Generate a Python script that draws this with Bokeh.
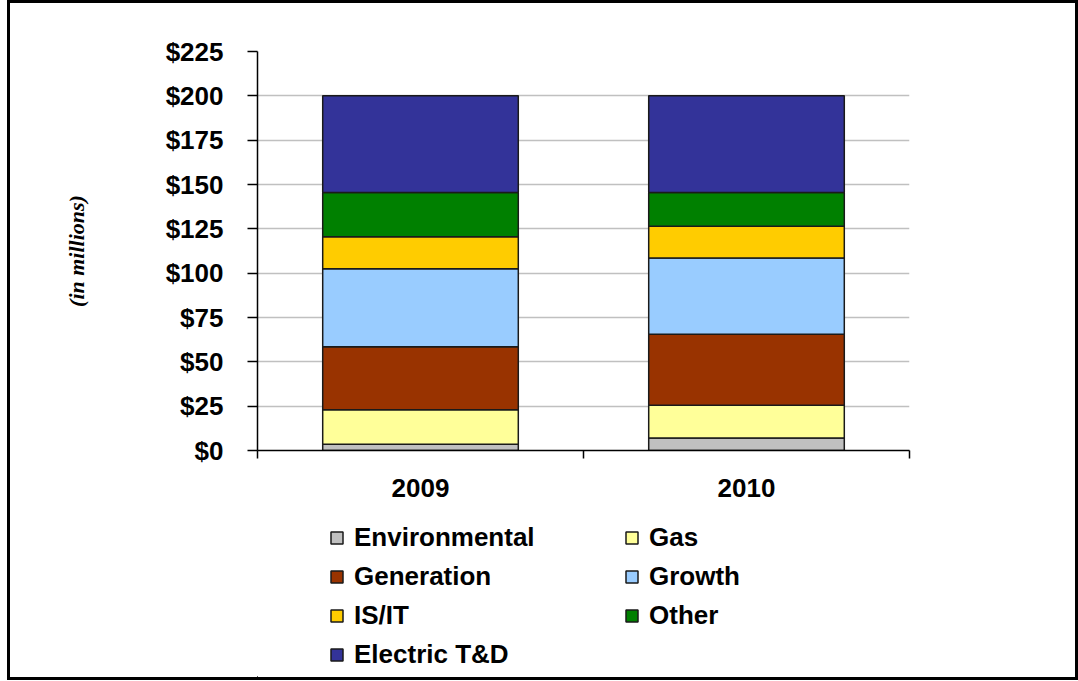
from bokeh.plotting import figure
from bokeh.layouts import column
from bokeh.models import (Range1d, FixedTicker, NumeralTickFormatter, Legend,
                          LegendItem, ColumnDataSource)
from bokeh.embed import file_html
from bokeh.resources import INLINE

years = ["2009", "2010"]
categories = ["Environmental", "Gas", "Generation", "Growth", "IS/IT", "Other", "Electric T&D"]
environmental = [3.5, 7.0]
gas = [19.5, 18.5]
generation = [35.5, 40.0]
growth = [44.0, 43.0]
is_it = [18.0, 18.0]
other = [25.0, 19.0]
electric_td = [54.5, 54.5]
colors = ["#C0C0C0", "#FFFF99", "#993300", "#99CCFF", "#FFCC00", "#008000", "#333399"]
y_ticks = [0, 25, 50, 75, 100, 125, 150, 175, 200, 225]

series = [environmental, gas, generation, growth, is_it, other, electric_td]
xs = [i + 0.5 for i in range(len(years))]
data = {"x": xs}
for name, vals in zip(categories, series):
    data[name] = vals
src = ColumnDataSource(data)

FONT = "Liberation Sans"
W = 1065

p = figure(width=W, frame_width=652, frame_height=399, output_backend="svg",
           toolbar_location=None,
           x_range=Range1d(0, len(years)), y_range=Range1d(0, 225),
           min_border_left=247, min_border_right=166, min_border_top=48,
           min_border_bottom=65)
p.outline_line_color = None
p.background_fill_color = "white"
p.border_fill_color = "white"

renderers = p.vbar_stack(categories, x="x", width=0.6, source=src,
                         fill_color=colors, line_color="#1a1a1a", line_width=1.5)

# axes
p.xaxis.ticker = FixedTicker(ticks=xs, minor_ticks=list(range(len(years) + 1)))
p.xaxis.major_label_overrides = {x: y for x, y in zip(xs, years)}
p.xaxis.major_tick_in = 0
p.xaxis.major_tick_out = 0
p.xaxis.minor_tick_in = 0
p.xaxis.minor_tick_out = 8
p.xaxis.minor_tick_line_color = "black"
p.xaxis.minor_tick_line_width = 1.5
p.xaxis.axis_line_color = "black"
p.xaxis.axis_line_width = 1.5
p.xaxis.major_label_text_font = FONT
p.xaxis.major_label_text_font_style = "bold"
p.xaxis.major_label_text_font_size = "26px"
p.xaxis.major_label_text_color = "black"
p.xaxis.major_label_standoff = 20

p.yaxis.ticker = FixedTicker(ticks=y_ticks, minor_ticks=[])
p.yaxis.formatter = NumeralTickFormatter(format="$0")
p.yaxis.major_tick_in = 0
p.yaxis.major_tick_out = 10
p.yaxis.major_tick_line_color = "black"
p.yaxis.major_tick_line_width = 1.5
p.yaxis.axis_line_color = "black"
p.yaxis.axis_line_width = 1.5
p.yaxis.major_label_text_font = FONT
p.yaxis.major_label_text_font_style = "bold"
p.yaxis.major_label_text_font_size = "26px"
p.yaxis.major_label_text_color = "black"
p.yaxis.major_label_standoff = 24
p.yaxis.axis_label = "(in millions)"
p.yaxis.axis_label_text_font = "Liberation Serif"
p.yaxis.axis_label_text_font_style = "bold italic"
p.yaxis.axis_label_text_font_size = "22px"
p.yaxis.axis_label_text_color = "black"
p.yaxis.axis_label_standoff = 74

p.xgrid.grid_line_color = None
p.ygrid.grid_line_color = "#c0c0c0"
p.ygrid.grid_line_width = 1.5

# legend panel (separate figure under the chart); the same stacked bars, kept far out of
# its view, serve only as legend swatches
q = figure(width=W, height=162, output_backend="svg", toolbar_location=None,
           x_range=Range1d(1000, 1002), y_range=Range1d(1000, 1001),
           x_axis_location=None, y_axis_location=None, min_border=0)
q.outline_line_color = None
q.grid.grid_line_color = None
q.background_fill_color = "white"
q.border_fill_color = "white"

swatches = q.vbar_stack(categories, x="x", width=0.6, source=src,
                        fill_color=colors, line_color="#1a1a1a", line_width=1.5)

# legend fills column by column: reorder so it reads row by row like the reference
ncols = 2
nrows = (len(categories) + ncols - 1) // ncols
order = [r * ncols + c for c in range(ncols) for r in range(nrows)
         if r * ncols + c < len(categories)]
legend = Legend(items=[LegendItem(label=categories[i], renderers=[swatches[i]]) for i in order],
                ncols=ncols, location=(72, 7), padding=0, margin=0, spacing=8,
                glyph_width=15, glyph_height=15, label_standoff=10,
                label_width=262, label_height=30,
                label_text_font=FONT, label_text_font_style="bold",
                label_text_font_size="26px", label_text_color="black",
                border_line_color=None, background_fill_alpha=0)
q.add_layout(legend)

layout = column(p, q, spacing=0,
                styles={"border-left": "3px solid black", "border-top": "3px solid black",
                        "border-bottom": "3px solid black", "border-right": "3px solid black",
                        "margin-left": "7px"})

open("out.html", "w").write(file_html(layout, INLINE))
